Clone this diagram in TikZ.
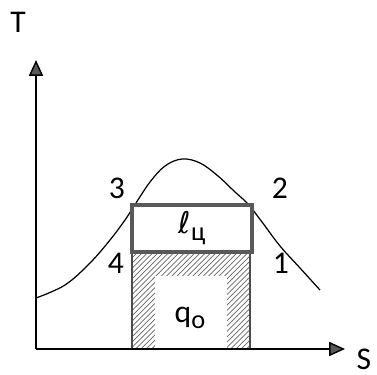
\documentclass[tikz,border=0pt]{standalone}
\usepackage{fontspec}
\setmainfont{Carlito}
\newfontfamily\dejavu{DejaVu Sans}
\usetikzlibrary{arrows.meta,patterns}
\begin{document}
\begin{tikzpicture}[x=0.02cm,y=-0.02cm,
  axis/.style={line width=0.8pt,-{Triangle[length=9pt,width=8pt,fill=gray!70!black]}},
  lbl/.style={font=\fontsize{18}{20}\selectfont,inner sep=0pt},
  boxl/.style={draw=black!65,line width=1.8pt}]
\useasboundingbox (0,0) rectangle (377,374);
% hatched area
\fill[pattern=north east lines,pattern color=black!60] (132,252) rectangle (250,349);
\fill[white] (155,276) rectangle (227,349);
\draw[line width=0.8pt,black!70] (132,252) -- (132,349);
\draw[line width=0.8pt,black!70] (250,252) -- (250,349);
% axes
\coordinate (o) at (36,349);
\coordinate (ty) at (36,60);
\coordinate (sx) at (345,349);
\draw[axis] (o) -- (ty);
\draw[axis] (o) -- (sx);
\node[lbl] (T) at (18,22) {T};
\node[lbl] (S) at (364,359) {S};
% curve
\draw[line width=0.7pt] plot[smooth,tension=0.6] coordinates {(36,298) (65,285) (90,263) (110,240) (125,220) (136,203) (150,182) (165,166) (182,159) (200,163) (218,176) (235,192) (248,204) (262,222) (280,246) (300,268) (320,290)};
% box
\draw[boxl,fill=white] (132,205) rectangle (252,252);
\node[lbl] (l) at (192,228) {{\dejavu\fontsize{17}{20}\selectfont ℓ}\raisebox{-0.5ex}{\fontsize{15}{16}\selectfont ц}};
\node[lbl] (q) at (190,318) {q\raisebox{-0.4ex}{\fontsize{15}{16}\selectfont o}};
\node[lbl] (n3) at (117,188) {3};
\node[lbl] (n2) at (280,188) {2};
\node[lbl] (n4) at (116,263) {4};
\node[lbl] (n1) at (281,263) {1};
\end{tikzpicture}
\end{document}
